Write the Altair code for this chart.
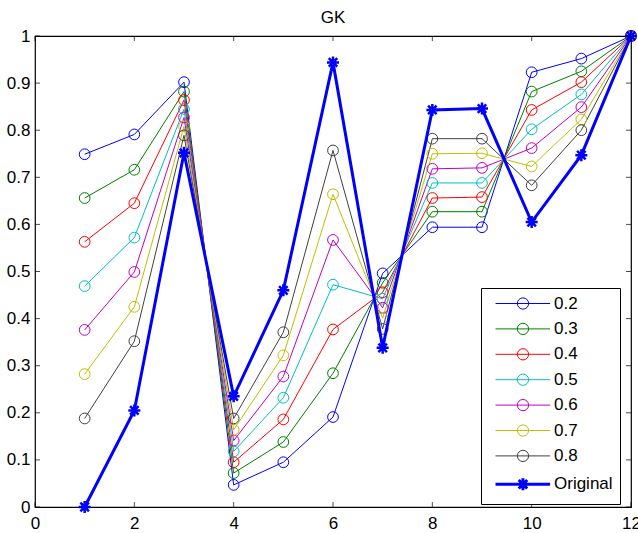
import altair as alt
import pandas as pd

X = [1, 2, 3, 4, 5, 6, 7, 8, 9, 10, 11, 12]
S02 = [0.749, 0.791, 0.902, 0.047, 0.095, 0.191, 0.496, 0.594, 0.594, 0.923, 0.952, 1.0]
S03 = [0.656, 0.716, 0.882, 0.072, 0.138, 0.284, 0.476, 0.627, 0.627, 0.882, 0.925, 1.0]
S04 = [0.563, 0.645, 0.864, 0.095, 0.186, 0.377, 0.456, 0.656, 0.658, 0.843, 0.902, 1.0]
S05 = [0.469, 0.572, 0.845, 0.118, 0.232, 0.472, 0.442, 0.688, 0.688, 0.802, 0.876, 1.0]
S06 = [0.376, 0.499, 0.827, 0.141, 0.277, 0.567, 0.423, 0.718, 0.720, 0.762, 0.849, 1.0]
S07 = [0.282, 0.425, 0.808, 0.164, 0.322, 0.664, 0.401, 0.750, 0.751, 0.723, 0.823, 1.0]
S08 = [0.188, 0.352, 0.789, 0.188, 0.371, 0.757, 0.378, 0.782, 0.782, 0.683, 0.800, 1.0]
ORIG = [0.0, 0.205, 0.752, 0.235, 0.46, 0.944, 0.338, 0.843, 0.846, 0.605, 0.747, 1.0]

NAMES = ["0.2", "0.3", "0.4", "0.5", "0.6", "0.7", "0.8", "Original"]
COLORS = ["#0000ff", "#008000", "#ff0000", "#00bfbf", "#bf00bf", "#bfbf00", "#404040", "#0000ff"]
X_TICKS = [0, 2, 4, 6, 8, 10, 12]
Y_TICKS = [0, 0.1, 0.2, 0.3, 0.4, 0.5, 0.6, 0.7, 0.8, 0.9, 1.0]
TITLE = "GK"

FONT = "Liberation Sans"

rows = []
for name, vals in zip(NAMES, [S02, S03, S04, S05, S06, S07, S08, ORIG]):
    for x, v in zip(X, vals):
        rows.append({"x": x, "y": v, "series": name})
df = pd.DataFrame(rows)
ytick_df = pd.DataFrame({"v": Y_TICKS})
xtick_df = pd.DataFrame({"v": X_TICKS})

STAR = "M-1,0H1M0,-1V1M-0.71,-0.71L0.71,0.71M-0.71,0.71L0.71,-0.71"
LEG_CIRCLE = "M-1,0H8.1M4.52,0A0.94,0.94 0 1,1 2.64,0A0.94,0.94 0 1,1 4.52,0"
LEG_STAR = "M-1,0H8.1M3.58,-1V1M2.58,0H4.58M2.87,-0.71L4.29,0.71M2.87,0.71L4.29,-0.71"

xscale = alt.Scale(domain=[0, 12], nice=False, zero=False)
yscale = alt.Scale(domain=[0, 1], nice=False, zero=False)

xenc = alt.X("x:Q", scale=xscale,
             axis=alt.Axis(values=X_TICKS, title=None, grid=False, ticks=False, tickSize=0,
                           domain=False, labelFont=FONT, labelFontSize=17, labelColor="black",
                           labelPadding=8, labelFlush=False, labelOverlap=False))
yenc = alt.Y("y:Q", scale=yscale,
             axis=alt.Axis(values=Y_TICKS, title=None, grid=False, ticks=False, tickSize=0,
                           domain=False, format=".1~f", labelFont=FONT, labelFontSize=17,
                           labelColor="black", labelPadding=5, labelFlush=False,
                           labelOverlap=False))

is_orig = "datum.value === 'Original'"
legend = alt.Legend(
    title=None, orient="none", legendX=446, legendY=252,
    symbolType=alt.ExprRef(expr=f"{is_orig} ? '{LEG_STAR}' : '{LEG_CIRCLE}'"),
    symbolStrokeWidth=alt.ExprRef(expr=f"{is_orig} ? 3 : 1"),
    symbolFillColor="transparent",
    symbolSize=144,
    labelFont=FONT, labelFontSize=17, labelColor="black", labelOffset=44,
    labelExpr="datum.label + '\u00a0\u00a0\u2009'",
    padding=7, rowPadding=7.4, symbolOffset=5,
    strokeColor="black", fillColor="white",
)
color = alt.Color("series:N", scale=alt.Scale(domain=NAMES, range=COLORS), legend=legend)

base = alt.Chart(df).encode(x=xenc, y=yenc, color=color, detail="series:N")
others = base.transform_filter("datum.series !== 'Original'")
orig = base.transform_filter("datum.series === 'Original'")

lines = others.mark_line(strokeWidth=1)
pts = others.mark_point(shape="circle", filled=False, size=115, strokeWidth=1, opacity=1)
oline = orig.mark_line(strokeWidth=3)
opts = orig.mark_point(shape=STAR, filled=False, size=144, strokeWidth=2.5, opacity=1)

tick_len = 5
left_t = alt.Chart(ytick_df).mark_tick(orient="horizontal", size=tick_len, thickness=1,
                                       color="black", xOffset=tick_len / 2).encode(
    y=alt.Y("v:Q", scale=yscale), x=alt.datum(0, scale=xscale))
right_t = alt.Chart(ytick_df).mark_tick(orient="horizontal", size=tick_len, thickness=1,
                                        color="black", xOffset=-tick_len / 2).encode(
    y=alt.Y("v:Q", scale=yscale), x=alt.datum(12, scale=xscale))
bot_t = alt.Chart(xtick_df).mark_tick(orient="vertical", size=tick_len, thickness=1,
                                      color="black", yOffset=-tick_len / 2).encode(
    x=alt.X("v:Q", scale=xscale), y=alt.datum(0, scale=yscale))
top_t = alt.Chart(xtick_df).mark_tick(orient="vertical", size=tick_len, thickness=1,
                                      color="black", yOffset=tick_len / 2).encode(
    x=alt.X("v:Q", scale=xscale), y=alt.datum(1, scale=yscale))

chart = alt.layer(lines, pts, oline, opts, left_t, right_t, bot_t, top_t).properties(
    width=596, height=471,
    padding={"left": 35, "top": 36, "right": 7, "bottom": 26},
    autosize=alt.AutoSizeParams(type="none"),
    title=alt.TitleParams(TITLE, font=FONT, fontSize=17, fontWeight="normal",
                          color="black", offset=-2),
    background="white",
).configure_view(stroke="black", strokeWidth=1.2)

chart.save("out.html", embed_options={"renderer": "svg", "actions": False})
